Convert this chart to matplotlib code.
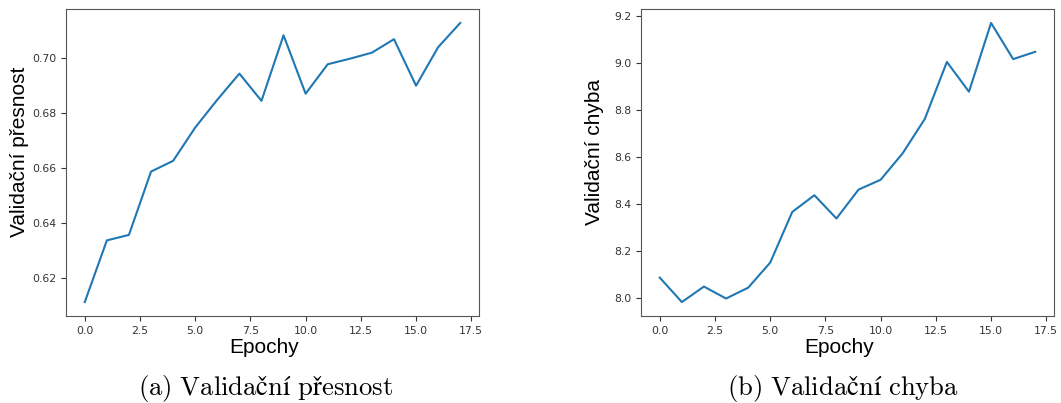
import matplotlib
matplotlib.use("Agg")
import matplotlib.pyplot as plt
import matplotlib.ticker as mt

plt.rcParams['mathtext.fontset'] = 'cm'

epochs = list(range(18))
val_accuracy = [0.6114, 0.6338, 0.6358, 0.6588, 0.6627, 0.6748, 0.6849, 0.6944,
                0.6845, 0.7083, 0.6871, 0.6978, 0.6998, 0.7020, 0.7069, 0.6900,
                0.7040, 0.7128]
val_loss = [8.085, 7.981, 8.047, 7.996, 8.042, 8.149, 8.365, 8.436, 8.337,
            8.460, 8.502, 8.615, 8.761, 9.004, 8.877, 9.170, 9.016, 9.047]

xlabel = "Epochy"
ylabels = ["Validační přesnost", "Validační chyba"]
captions = [r"$\mathrm{(a)\ Validační\ přesnost}$",
            r"$\mathrm{(b)\ Validační\ chyba}$"]
xticks = [0, 2.5, 5, 7.5, 10, 12.5, 15, 17.5]
yformats = ['%.2f', '%.1f']

W, H = 1061, 403
fig = plt.figure(figsize=(W / 100, H / 100), dpi=100)

boxes = [(66, 9, 479, 316), (641, 9, 1054, 316)]
caption_centers = [(265.5, 388), (843, 388)]
series = [val_accuracy, val_loss]

for i in range(2):
    l, t, r, b = boxes[i]
    ax = fig.add_axes([l / W, 1 - b / H, (r - l) / W, (b - t) / H])
    ax.plot(epochs, series[i], color='#1f77b4', lw=1.5)
    ax.tick_params(labelsize=7.8, colors='#333333')
    for s in ax.spines.values():
        s.set_color('#555555')
    ax.set_xticks(xticks)
    ax.yaxis.set_major_formatter(mt.FormatStrFormatter(yformats[i]))
    ax.set_xlabel(xlabel, fontsize=15, family='Liberation Sans', va='center')
    ax.set_ylabel(ylabels[i], fontsize=15, family='Liberation Sans', va='center')
    ax.xaxis.set_label_coords(0.479, -0.101)
    ax.yaxis.set_label_coords(-0.1114, 0.534)
    cx, cy = caption_centers[i]
    fig.text(cx / W, 1 - cy / H, captions[i], fontsize=19.2, ha='center', va='center')

fig.savefig("out.png", dpi=100)
